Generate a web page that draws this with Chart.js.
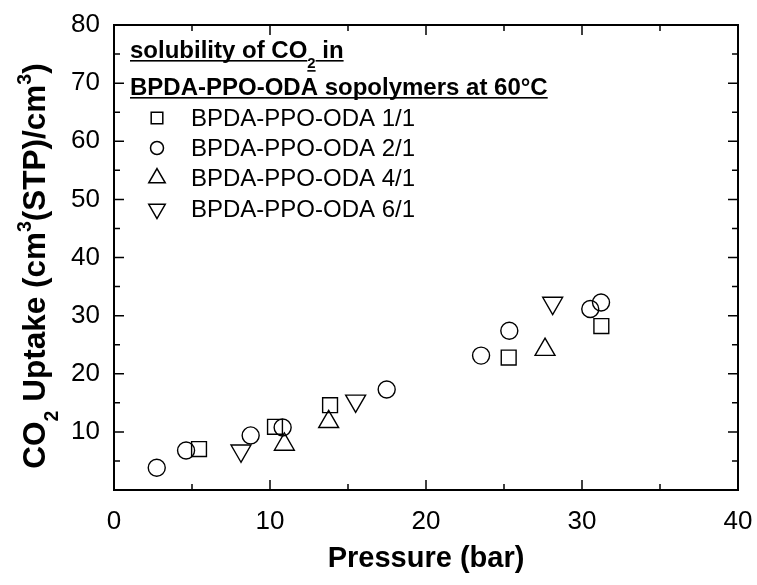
<!DOCTYPE html>
<html>
<head>
<meta charset="utf-8">
<script src="https://cdn.jsdelivr.net/npm/chart.js@4.4.1/dist/chart.umd.min.js"></script>
<style>
  html, body { margin: 0; padding: 0; background: #fff; }
</style>
</head>
<body>
<canvas id="c" width="757" height="585"></canvas>
<script>
const FONT = "'Liberation Sans', Arial, sans-serif";

// CO2 uptake vs pressure, one pair of arrays per copolymer ratio
const names = ["BPDA-PPO-ODA 1/1", "BPDA-PPO-ODA 2/1", "BPDA-PPO-ODA 4/1", "BPDA-PPO-ODA 6/1"];
const p11 = [5.45, 10.32, 13.85, 25.3, 31.24];
const u11 = [7.04, 10.87, 14.59, 22.78, 28.2];
const p21 = [2.74, 4.62, 8.76, 10.81, 17.48, 23.53, 25.34, 30.53, 31.22];
const u21 = [3.83, 6.8, 9.39, 10.76, 17.29, 23.12, 27.4, 31.13, 32.27];
const p41 = [10.92, 13.76, 27.63];
const u41 = [7.84, 11.73, 24.15];
const p61 = [8.14, 15.49, 28.12];
const u61 = [6.75, 15.33, 32.16];

const xTicks = [0, 10, 20, 30, 40];
const yTicks = [10, 20, 30, 40, 50, 60, 70, 80];

const styles = [
  { pointStyle: "rect", radius: 10.5, rotation: 0 },
  { pointStyle: "circle", radius: 8.5, rotation: 0 },
  { pointStyle: "triangle", radius: 11.5, rotation: 0 },
  { pointStyle: "triangle", radius: 11.5, rotation: 180 },
];
const legendStyles = [
  { pointStyle: "rect", radius: 8.2, rotation: 0 },
  { pointStyle: "circle", radius: 6.5, rotation: 0 },
  { pointStyle: "triangle", radius: 9.5, rotation: 0 },
  { pointStyle: "triangle", radius: 9.5, rotation: 180 },
];

const pairs = (xs, ys) => xs.map((x, i) => ({ x, y: ys[i] }));
const series = [pairs(p11, u11), pairs(p21, u21), pairs(p41, u41), pairs(p61, u61)];

// text with sub/superscript pieces: [text, "sub" | "sup" | undefined]
function richText(ctx, parts, x, y, size, bold, center, underline) {
  const font = s => `${bold ? "bold " : ""}${s}px ${FONT}`;
  const pieces = parts.map(([t, k]) => {
    const s = k ? size * 0.62 : size;
    ctx.font = font(s);
    return { t, k, s, w: ctx.measureText(t).width };
  });
  const total = pieces.reduce((a, p) => a + p.w, 0);
  let cx = center ? x - total / 2 : x;
  for (const p of pieces) {
    const dy = p.k === "sub" ? size * 0.42 : p.k === "sup" ? -size * 0.45 : 0;
    ctx.font = font(p.s);
    ctx.fillText(p.t, cx, y + dy);
    if (underline) {
      ctx.fillRect(cx, y + dy + 2, p.w, 1.6);
    }
    cx += p.w;
  }
}

function marker(ctx, st, x, y) {
  ctx.fillStyle = "rgba(0,0,0,0)";
  Chart.helpers.drawPoint(ctx, {
    pointStyle: st.pointStyle, radius: st.radius, rotation: st.rotation, borderWidth: 1.4
  }, x, y);
  ctx.fillStyle = "#000";
}

const decorations = {
  id: "decorations",
  afterDatasetsDraw(chart) {
    const { ctx, chartArea: a, scales: { x, y } } = chart;
    ctx.save();
    ctx.strokeStyle = "#000";
    ctx.fillStyle = "#000";

    // frame and inward ticks
    ctx.lineWidth = 2;
    ctx.strokeRect(a.left, a.top, a.right - a.left, a.bottom - a.top);
    ctx.lineWidth = 1.5;
    ctx.beginPath();
    for (let v = 5; v < 40; v += 5) {
      const px = x.getPixelForValue(v), len = v % 10 ? 6 : 10;
      ctx.moveTo(px, a.bottom); ctx.lineTo(px, a.bottom - len);
      ctx.moveTo(px, a.top); ctx.lineTo(px, a.top + len);
    }
    for (let v = 5; v < 80; v += 5) {
      const py = y.getPixelForValue(v), len = v % 10 ? 6 : 10;
      ctx.moveTo(a.left, py); ctx.lineTo(a.left + len, py);
      ctx.moveTo(a.right, py); ctx.lineTo(a.right - len, py);
    }
    ctx.stroke();

    // legend block
    ctx.textAlign = "left";
    ctx.textBaseline = "alphabetic";
    richText(ctx, [["solubility of CO"], ["2", "sub"], [" in"]], 130, 58, 24, true, false, true);
    richText(ctx, [["BPDA-PPO-ODA sopolymers at 60°C"]], 130, 95, 24, true, false, true);
    ctx.textBaseline = "middle";
    const rows = [118, 148, 178, 209];
    names.forEach((n, i) => {
      marker(ctx, legendStyles[i], 157, rows[i]);
      ctx.font = `24px ${FONT}`;
      ctx.fillText(n, 191, rows[i] + 1);
    });

    // axis titles
    ctx.textBaseline = "alphabetic";
    ctx.textAlign = "left";
    richText(ctx, [["Pressure (bar)"]], (a.left + a.right) / 2, 567, 29, true, true, false);
    ctx.translate(45, 266);
    ctx.rotate(-Math.PI / 2);
    richText(ctx, [["CO"], ["2", "sub"], [" Uptake (cm"], ["3", "sup"], ["(STP)/cm"], ["3", "sup"], [")"]],
      0, 0, 31.5, true, true, false);
    ctx.restore();
  }
};

new Chart(document.getElementById("c"), {
  type: "scatter",
  data: {
    datasets: series.map((d, i) => ({
      label: names[i],
      data: d,
      pointStyle: styles[i].pointStyle,
      pointRadius: styles[i].radius,
      rotation: styles[i].rotation,
      borderColor: "#000",
      backgroundColor: "rgba(0,0,0,0)",
      borderWidth: 1.4,
    }))
  },
  options: {
    responsive: false,
    animation: false,
    devicePixelRatio: 1,
    layout: { padding: { top: 25, right: 19, left: 0, bottom: 0 } },
    plugins: { legend: { display: false }, tooltip: { enabled: false } },
    scales: {
      x: {
        type: "linear", min: 0, max: 40,
        // fixed band under the plot; end labels may overhang the margins
        afterFit: s => { s.height = 95; s.paddingLeft = 0; s.paddingRight = 0; },
        afterBuildTicks: s => { s.ticks = xTicks.map(v => ({ value: v })); },
        grid: { display: false, drawTicks: false },
        border: { display: false },
        ticks: { color: "#000", padding: 16, font: { family: FONT, size: 26 } }
      },
      y: {
        type: "linear", min: 0, max: 80,
        afterFit: s => { s.width = 114; s.paddingTop = 0; s.paddingBottom = 0; },
        afterBuildTicks: s => { s.ticks = yTicks.map(v => ({ value: v })); },
        grid: { display: false, drawTicks: false },
        border: { display: false },
        ticks: { color: "#000", padding: 14, font: { family: FONT, size: 26 } }
      }
    }
  },
  plugins: [decorations]
});
</script>
</body>
</html>
